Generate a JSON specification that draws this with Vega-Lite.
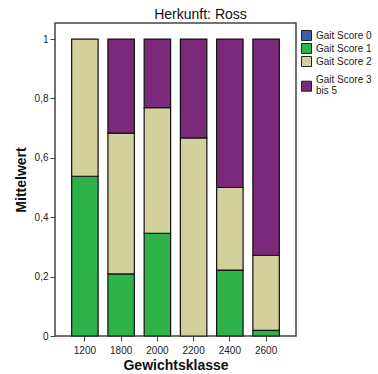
{
  "$schema": "https://vega.github.io/schema/vega-lite/v6.json",
  "width": 241,
  "height": 313,
  "autosize": {"type": "none"},
  "padding": {"left": 55, "top": 23, "right": 82, "bottom": 38},
  "background": "white",
  "config": {
    "font": "Liberation Sans",
    "view": {"stroke": "#444", "strokeWidth": 1.5}
  },
  "title": {"text": "Herkunft: Ross", "fontSize": 14, "fontWeight": "normal", "font": "Liberation Sans", "offset": 1, "anchor": "middle", "dx": 25, "color": "#111"},
  "data": {
    "values": [
      {"k": "1200", "s": "Gait Score 0", "o": 0, "v": 0},
      {"k": "1200", "s": "Gait Score 1", "o": 1, "v": 0.538},
      {"k": "1200", "s": "Gait Score 2", "o": 2, "v": 0.462},
      {"k": "1200", "s": "Gait Score 3 bis 5", "o": 3, "v": 0},
      {"k": "1800", "s": "Gait Score 0", "o": 0, "v": 0},
      {"k": "1800", "s": "Gait Score 1", "o": 1, "v": 0.209},
      {"k": "1800", "s": "Gait Score 2", "o": 2, "v": 0.474},
      {"k": "1800", "s": "Gait Score 3 bis 5", "o": 3, "v": 0.317},
      {"k": "2000", "s": "Gait Score 0", "o": 0, "v": 0},
      {"k": "2000", "s": "Gait Score 1", "o": 1, "v": 0.346},
      {"k": "2000", "s": "Gait Score 2", "o": 2, "v": 0.423},
      {"k": "2000", "s": "Gait Score 3 bis 5", "o": 3, "v": 0.231},
      {"k": "2200", "s": "Gait Score 0", "o": 0, "v": 0},
      {"k": "2200", "s": "Gait Score 1", "o": 1, "v": 0},
      {"k": "2200", "s": "Gait Score 2", "o": 2, "v": 0.667},
      {"k": "2200", "s": "Gait Score 3 bis 5", "o": 3, "v": 0.333},
      {"k": "2400", "s": "Gait Score 0", "o": 0, "v": 0},
      {"k": "2400", "s": "Gait Score 1", "o": 1, "v": 0.222},
      {"k": "2400", "s": "Gait Score 2", "o": 2, "v": 0.278},
      {"k": "2400", "s": "Gait Score 3 bis 5", "o": 3, "v": 0.5},
      {"k": "2600", "s": "Gait Score 0", "o": 0, "v": 0},
      {"k": "2600", "s": "Gait Score 1", "o": 1, "v": 0.019},
      {"k": "2600", "s": "Gait Score 2", "o": 2, "v": 0.253},
      {"k": "2600", "s": "Gait Score 3 bis 5", "o": 3, "v": 0.728}
    ]
  },
  "transform": [{"filter": "datum.v > 0"}],
  "mark": {"type": "bar", "stroke": "#111", "strokeWidth": 1.2},
  "encoding": {
    "x": {
      "field": "k", "type": "ordinal",
      "scale": {"paddingInner": 0.27, "paddingOuter": 0.46},
      "axis": {
        "title": "Gewichtsklasse", "titleFontSize": 14, "titleFontWeight": "bold", "titleColor": "#111", "titlePadding": 3,
        "labelAngle": 0, "labelFontSize": 10, "labelColor": "#222", "labelPadding": 4,
        "tickSize": 5, "tickColor": "#444", "domain": false
      }
    },
    "y": {
      "field": "v", "type": "quantitative", "stack": "zero",
      "scale": {"domain": [0, 1.054], "nice": false, "zero": true},
      "axis": {
        "title": "Mittelwert", "titleFontSize": 14, "titleFontWeight": "bold", "titleColor": "#111", "titlePadding": 6,
        "values": [0, 0.2, 0.4, 0.6, 0.8, 1],
        "labelExpr": "replace(toString(datum.value), '.', ',')",
        "labelFontSize": 10, "labelColor": "#222", "labelPadding": 2,
        "tickSize": 5, "tickColor": "#444", "grid": false, "domain": false
      }
    },
    "order": {"field": "o", "type": "quantitative"},
    "color": {
      "field": "s", "type": "nominal",
      "scale": {
        "domain": ["Gait Score 0", "Gait Score 1", "Gait Score 2", "Gait Score 3 bis 5"],
        "range": ["#3a5dae", "#2db34a", "#d4d09b", "#7b2a7b"]
      },
      "legend": {
        "title": null, "orient": "none", "legendX": 246, "legendY": 7,
        "symbolType": "square", "symbolSize": 100, "symbolStrokeColor": "#222", "symbolStrokeWidth": 1, "symbolOpacity": 1,
        "labelFontSize": 10, "labelColor": "#222", "labelOffset": 4, "rowPadding": -4.3,
        "labelExpr": "datum.label == 'Gait Score 3 bis 5' ? ['Gait Score 3', 'bis 5'] : datum.label == 'Gait Score 2' ? ['Gait Score 2', ' '] : datum.label",
        "encode": {
          "labels": {"update": {
            "dy": {"signal": "datum.value == 'Gait Score 3 bis 5' ? -6 : 0"},
            "lineHeight": {"signal": "datum.value == 'Gait Score 2' ? 12 : 11"}
          }}
        }
      }
    }
  }
}
